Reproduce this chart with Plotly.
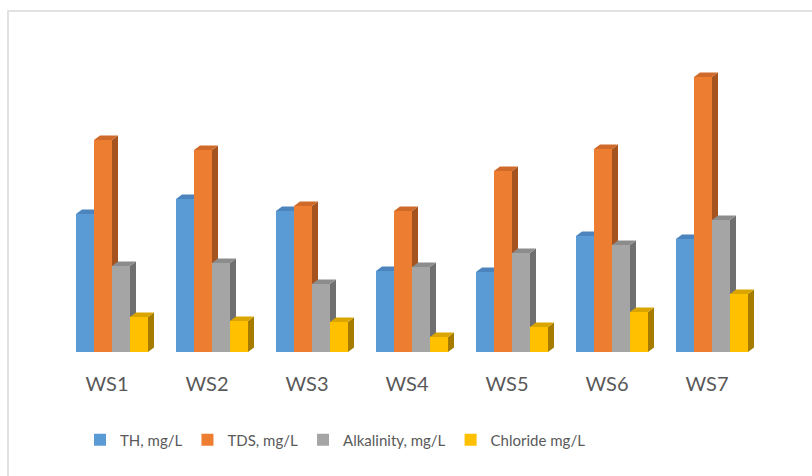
import plotly.graph_objects as go

categories = ["WS1", "WS2", "WS3", "WS4", "WS5", "WS6", "WS7"]
series_names = ["TH, mg/L", "TDS, mg/L", "Alkalinity, mg/L", "Chloride mg/L"]
th = [138, 153, 141, 81, 80, 116, 113]
tds = [212, 202, 146, 141, 181, 203, 275]
alkalinity = [86, 89, 68, 85, 99, 107, 132]
chloride = [35, 31, 30, 15, 25, 40, 58]
series_values = [th, tds, alkalinity, chloride]

front_colors = ["#5B9BD5", "#ED7D31", "#A5A5A5", "#FFC000"]
top_colors = ["#4C84BE", "#CF6A2B", "#8C8C8C", "#DBA500"]
side_colors = ["#3F6E9C", "#A5531F", "#6F6F6F", "#A67C00"]

BAR_W = 0.18
GROUP_SHIFT = 0.05
DX = 0.06   # depth offset in category units
DY = 4.5    # depth offset in value units

def bar_left(i, k):
    return i + GROUP_SHIFT - 2 * BAR_W + k * BAR_W

fig = go.Figure()

side_shapes = []
top_shapes = []
for k, vals in enumerate(series_values):
    for i, h in enumerate(vals):
        l = bar_left(i, k)
        e = l + BAR_W
        side_shapes.append(dict(
            type="path", xref="x", yref="y", layer="below",
            path=f"M{e},0 L{e+DX},{DY} L{e+DX},{h+DY} L{e},{h} Z",
            fillcolor=side_colors[k], line=dict(width=0)))
        top_shapes.append(dict(
            type="path", xref="x", yref="y", layer="below",
            path=f"M{l},{h} L{e},{h} L{e+DX},{h+DY} L{l+DX},{h+DY} Z",
            fillcolor=top_colors[k], line=dict(width=0)))

# order tops left-to-right within each group
top_order = []
for i in range(len(categories)):
    for k in range(len(series_values)):
        top_order.append(top_shapes[k * len(categories) + i])

for k, vals in enumerate(series_values):
    fig.add_trace(go.Bar(
        x=[bar_left(i, k) + BAR_W / 2 for i in range(len(categories))],
        y=vals, width=BAR_W, name=series_names[k],
        marker=dict(color=front_colors[k], line=dict(width=0)),
        hoverinfo="skip"))

frame = dict(type="rect", xref="paper", yref="paper",
             x0=(8 - 57) / 700, x1=(820 - 57) / 700,
             y0=(352 - 490) / 300, y1=(352 - 11) / 300,
             line=dict(color="#D9D9D9", width=1.5), fillcolor="rgba(0,0,0,0)",
             layer="below")

fig.update_layout(
    width=812, height=476,
    margin=dict(l=57, r=55, t=52, b=124, autoexpand=False),
    paper_bgcolor="white", plot_bgcolor="white",
    barmode="overlay", bargap=0,
    shapes=[frame] + side_shapes + top_order,
    showlegend=True,
    legend=dict(orientation="h", xref="container", yref="container",
                x=80 / 812, xanchor="left", y=1 - 440 / 476, yanchor="middle",
                font=dict(family="Lato", size=15, color="#595959"),
                traceorder="normal"),
    font=dict(family="Lato", color="#595959"),
    xaxis=dict(range=[-0.5, 6.5], tickmode="array", tickvals=list(range(len(categories))),
               ticktext=categories, showgrid=False, zeroline=False, showline=False,
               ticks="outside", ticklen=14, tickcolor="rgba(0,0,0,0)",
               tickfont=dict(family="Lato", size=20, color="#595959")),
    yaxis=dict(range=[0, 300], visible=False, showgrid=False, zeroline=False),
)

fig.write_html("out.html", config={"displayModeBar": False},
               post_script="document.body.style.margin='0';document.body.style.overflow='hidden';")
